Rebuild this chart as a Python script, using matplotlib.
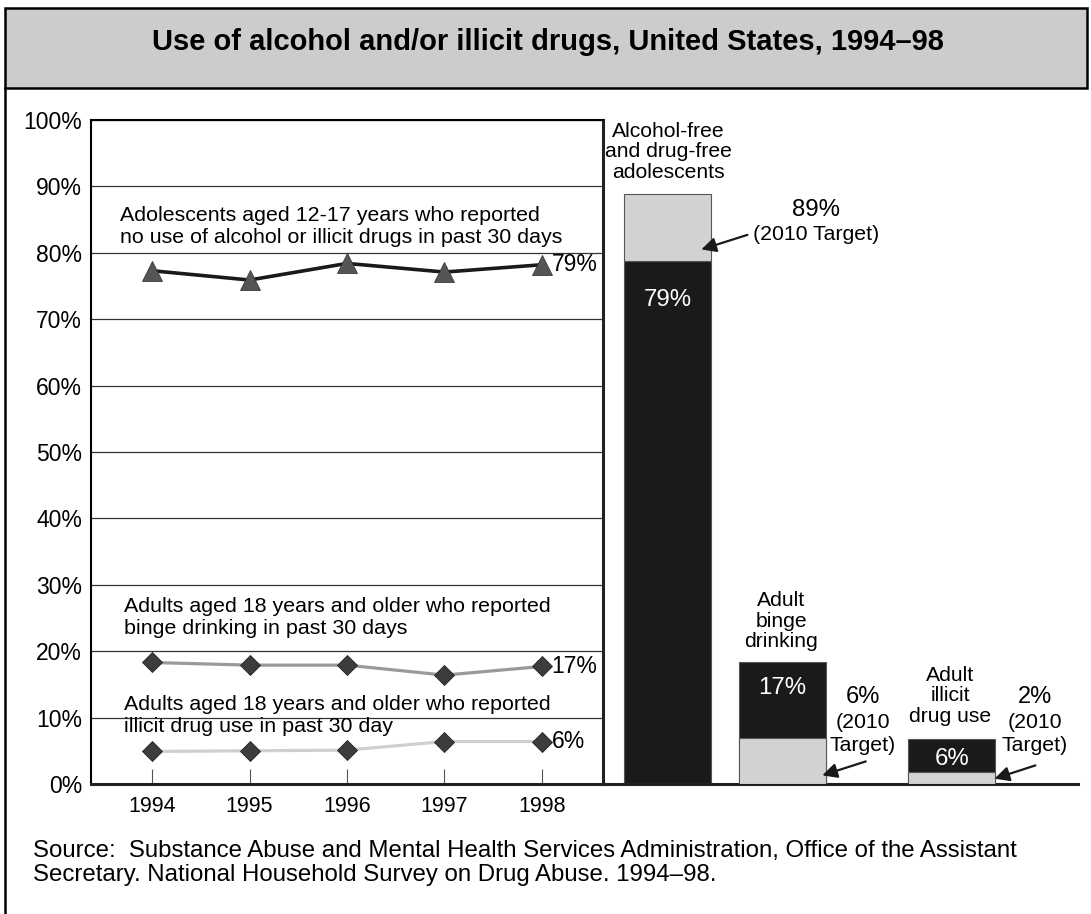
import matplotlib
matplotlib.use('Agg')
import matplotlib.pyplot as plt
from matplotlib.patches import Rectangle
from matplotlib.lines import Line2D

plt.rcParams['font.family'] = ['Liberation Sans', 'DejaVu Sans']

W, H = 1091, 914

# ---- data ----
years = [1994, 1995, 1996, 1997, 1998]
adolescents_free = [77.3, 75.9, 78.4, 77.1, 78.2]
adult_binge = [18.3, 17.9, 17.9, 16.4, 17.7]
adult_illicit = [4.9, 5.0, 5.1, 6.4, 6.4]
end_labels = ['79%', '17%', '6%']

bar_names = ['Alcohol-free\nand drug-free\nadolescents', 'Adult\nbinge\ndrinking',
             'Adult\nillicit\ndrug use']
bar_actual = [78.8, 18.3, 6.8]
bar_target = [88.8, 7.0, 1.8]
actual_labels = ['79%', '17%', '6%']
target_labels = ['89%', '6%', '2%']

title = 'Use of alcohol and/or illicit drugs, United States, 1994\u201398'
source = ('Source:  Substance Abuse and Mental Health Services Administration, Office of the Assistant\n'
          'Secretary. National Household Survey on Drug Abuse. 1994\u201398.')

BLACK = '#1a1a1a'
LGRAY = '#d0d2d3'


def fx(x):
    return x / W


def fy(y):
    return 1 - y / H


fig = plt.figure(figsize=(W / 100, H / 100), dpi=100)

# frame + title band
fig.patches.append(Rectangle((fx(5), fy(88)), fx(1087) - fx(5), fy(8) - fy(88),
                             transform=fig.transFigure, facecolor='#cccccc',
                             edgecolor='black', lw=1.8))
fig.lines.append(Line2D([fx(5), fx(5)], [fy(88), 0], transform=fig.transFigure,
                        color='black', lw=1.8))
fig.text(0.502, fy(42), title, ha='center', va='center', fontsize=21, fontweight='bold')

# ---- left: trend lines ----
ax = fig.add_axes([fx(91), fy(784), fx(603) - fx(91), fy(120) - fy(784)])
ax.set_xlim(1993.374, 1998.626)
ax.set_ylim(0, 100)
ax.set_yticks(range(0, 101, 10))
ax.set_yticklabels([f'{v}%' for v in range(0, 101, 10)], fontsize=16.5)
ax.set_xticks(years)
ax.set_xticklabels([str(y) for y in years], fontsize=15.5)
ax.tick_params(axis='y', length=0, pad=6.5)
ax.tick_params(axis='x', direction='in', length=11, width=0.8, color='#555555', pad=9)
ax.grid(axis='y', color='#333333', lw=0.9)
ax.set_axisbelow(True)
for side in ['left', 'top']:
    ax.spines[side].set_linewidth(1.5)
for side in ['right', 'bottom']:
    ax.spines[side].set_linewidth(2.2)
    ax.spines[side].set_color('#222222')

ax.plot(years, adolescents_free, color=BLACK, lw=2.6, marker='^', ms=15,
        mfc='#555555', mec='#3a3a3a', mew=0.6, zorder=3)
ax.plot(years, adult_binge, color='#9a9a9a', lw=2.3, marker='D', ms=10.2,
        mfc='#3c3c3c', mec='#222222', mew=0.6, zorder=3)
ax.plot(years, adult_illicit, color='#cfcfcf', lw=2.3, marker='D', ms=10.2,
        mfc='#3c3c3c', mec='#222222', mew=0.6, zorder=3)

for series, lab in zip([adolescents_free, adult_binge, adult_illicit], end_labels):
    ax.text(years[-1] + 0.1, series[-1], lab, ha='left', va='center', fontsize=16.5)

ax.text(1993.67, 83.9, 'Adolescents aged 12-17 years who reported\n'
        'no use of alcohol or illicit drugs in past 30 days', ha='left', va='center', fontsize=15.4)
ax.text(1993.71, 25.1, 'Adults aged 18 years and older who reported\n'
        'binge drinking in past 30 days', ha='left', va='center', fontsize=15.4)
ax.text(1993.71, 10.3, 'Adults aged 18 years and older who reported\n'
        'illicit drug use in past 30 day', ha='left', va='center', fontsize=15.4)

# ---- right: 2010 targets ----
bx = fig.add_axes([fx(603), fy(784), fx(1078) - fx(603), fy(120) - fy(784)])
bx.set_xlim(0, 475 / 87)
bx.set_ylim(0, 100)
bx.patch.set_visible(False)
for side in ['left', 'top', 'right']:
    bx.spines[side].set_visible(False)
bx.spines['bottom'].set_linewidth(2.2)
bx.spines['bottom'].set_color('#222222')
bx.set_xticks([])
bx.set_yticks([])

bar_pos = [0.741, 2.063, 4.011]
bx.bar(bar_pos, bar_actual, width=1.0, color=BLACK, edgecolor='#555555', lw=0.8, zorder=2)
for p, a, t in zip(bar_pos, bar_actual, bar_target):
    if t > a:
        bx.bar(p, t - a, bottom=a, width=1.0, color=LGRAY, edgecolor='#555555', lw=0.8, zorder=3)
    else:
        bx.bar(p, t, width=1.0, color=LGRAY, edgecolor='#555555', lw=0.8, zorder=3)

name_y = [95.2, 24.5, 13.3]
name_x = [0.75, 2.05, 3.99]
for x, y, n in zip(name_x, name_y, bar_names):
    bx.text(x, y, n, ha='center', va='center', fontsize=15.2, linespacing=1.1)

act_y = [72.9, 14.5, 3.8]
for p, y, lab in zip(bar_pos, act_y, actual_labels):
    bx.text(p, y, lab, ha='center', va='center', fontsize=17.3, color='white', zorder=5)

# target callouts
bx.text(2.448, 86.4, target_labels[0], ha='center', va='center', fontsize=17.3)
bx.text(2.448, 82.7, '(2010 Target)', ha='center', va='center', fontsize=15.3)
bx.annotate('', xy=(1.13, 80.5), xytext=(1.66, 82.7),
            arrowprops=dict(arrowstyle='-|>', color=BLACK, lw=1.6, mutation_scale=22,
                            shrinkA=0, shrinkB=0))
tgt_x = [None, 2.989, 4.966]
for i in (1, 2):
    bx.text(tgt_x[i], 13.1, target_labels[i], ha='center', va='center', fontsize=17)
    bx.text(tgt_x[i], 7.5, '(2010\nTarget)', ha='center', va='center',
            fontsize=15.3, linespacing=1.25)
bx.annotate('', xy=(2.52, 1.3), xytext=(3.02, 3.4),
            arrowprops=dict(arrowstyle='-|>', color=BLACK, lw=1.6, mutation_scale=22,
                            shrinkA=0, shrinkB=0))
bx.annotate('', xy=(4.5, 0.8), xytext=(4.97, 2.8),
            arrowprops=dict(arrowstyle='-|>', color=BLACK, lw=1.6, mutation_scale=22,
                            shrinkA=0, shrinkB=0))

fig.text(fx(33), fy(863), source, ha='left', va='center', fontsize=17.3, linespacing=1.15)

fig.savefig('out.png', dpi=100)
